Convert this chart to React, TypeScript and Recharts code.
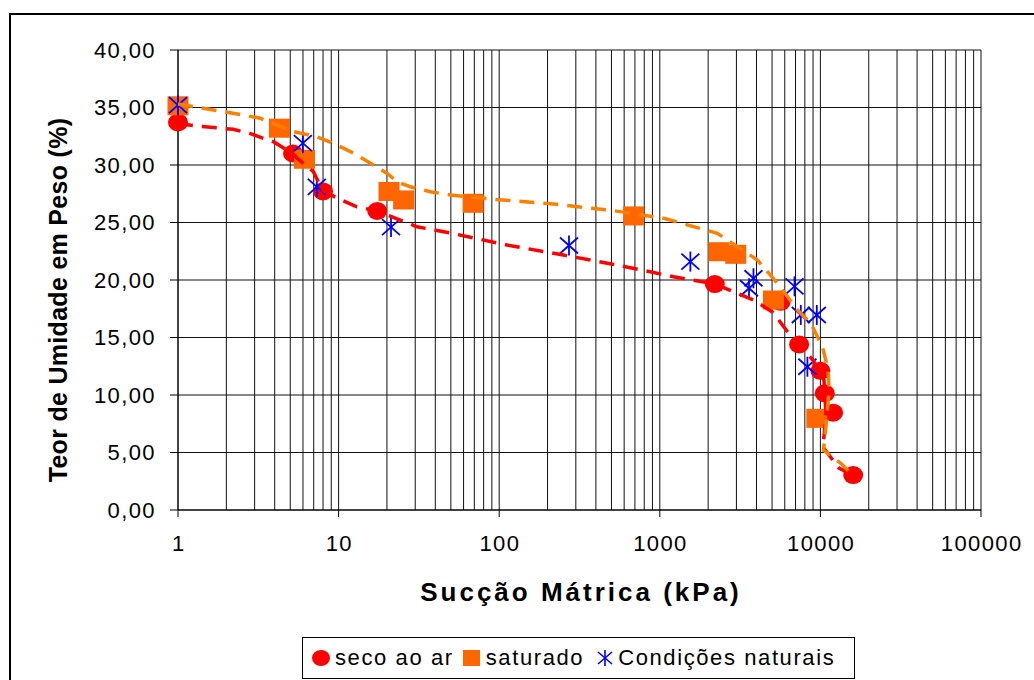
import { ScatterChart, Scatter, XAxis, YAxis, CartesianGrid, Legend } from 'recharts';

// seco ao ar (red circles)
const secoX = [1, 5.2, 8.0, 17.4, 2200, 5660, 7370, 10000, 10650, 12000, 16000];
const secoY = [33.7, 31.0, 27.7, 26.0, 19.65, 18.1, 14.4, 12.1, 10.15, 8.46, 3.04];

// saturado (orange squares)
const saturadoX = [1, 4.28, 6.13, 20.6, 25.4, 68.8, 687, 2337, 2970, 5100, 9500];
const saturadoY = [35.15, 33.2, 30.5, 27.7, 26.96, 26.67, 25.57, 22.46, 22.23, 18.26, 7.97];

// Condições naturais (blue asterisks)
const naturaisX = [1, 5.99, 7.32, 21.2, 272, 1550, 3830, 3594, 6900, 7550, 9500, 8300];
const naturaisY = [35.2, 31.9, 28.1, 24.6, 23.0, 21.6, 20.15, 19.28, 19.45, 16.96, 16.96, 12.46];

// dashed curves
const curvaSecoX = [1, 1.25, 2.21, 2.8, 3.4, 3.93, 5.21, 5.5, 6.97, 7.9, 9.76, 13.0, 17.4, 30.8, 49.6, 112, 251, 543, 1219, 2197, 3846, 5050, 6260, 7340, 8980, 10520, 10840, 10370, 13030, 15920];
const curvaSecoY = [33.6, 33.42, 33.1, 32.75, 32.32, 32.03, 30.96, 30.6, 29.42, 27.83, 27.13, 26.37, 26.0, 24.63, 24.09, 23.04, 22.17, 21.3, 20.29, 19.65, 18.26, 17.2, 15.48, 14.43, 13.04, 11.3, 8.26, 5.48, 3.65, 3.04];

const curvaSatX = [1, 1.44, 2.55, 3.25, 5.23, 7.32, 9.76, 12.4, 20.0, 23.1, 27.9, 37.2, 49.6, 92, 218, 515, 1057, 2280, 4055, 5400, 7200, 8710, 10300, 11170, 11330, 10810, 10450, 13400, 15920];
const curvaSatY = [35.3, 34.93, 34.35, 34.06, 32.9, 32.46, 31.74, 31.02, 29.28, 28.55, 28.11, 27.68, 27.39, 27.02, 26.61, 26.03, 25.37, 24.06, 21.74, 19.71, 17.39, 16.23, 14.2, 12.17, 10.43, 7.2, 5.2, 4.06, 3.04];

const majorTicks = [1, 10, 100, 1000, 10000, 100000];
const minorSteps = [1, 2, 3, 4, 5, 6, 7, 8, 9];
const xTicks = [1, 10, 100, 1000, 10000].flatMap(d => minorSteps.map(s => s * d)).concat(100000);
const yTicks = [0, 5, 10, 15, 20, 25, 30, 35, 40];

const FONT = '"Liberation Sans", Arial, sans-serif';

const toPoints = (xs: number[], ys: number[]) => xs.map((x, i) => ({ x, y: ys[i] }));

const Circle = ({ cx, cy }: any) => <ellipse cx={cx} cy={cy} rx={10} ry={9} fill="#FF0000" />;
const Square = ({ cx, cy }: any) => <rect x={cx - 10.5} y={cy - 9.5} width={21} height={19} fill="#FF6600" />;
const Star = ({ cx, cy }: any) => (
  <g stroke="#0000FF" strokeWidth={1.8}>
    <line x1={cx} y1={cy - 10} x2={cx} y2={cy + 10} />
    <line x1={cx - 9} y1={cy - 8} x2={cx + 9} y2={cy + 8} />
    <line x1={cx - 9} y1={cy + 8} x2={cx + 9} y2={cy - 8} />
  </g>
);
const NoDot = () => <g />;

function XTick(props: any) {
  const { x, y, payload } = props;
  if (!majorTicks.includes(payload.value)) return <g />;
  return (
    <g>
      <line x1={x} y1={y - 25} x2={x} y2={y - 18} stroke="#000" />
      <text x={x + 0.7} y={y} dy="0.71em" textAnchor="middle" fontSize={22} letterSpacing={1.4} fontFamily={FONT} fill="#000">
        {payload.value}
      </text>
    </g>
  );
}

function YTick(props: any) {
  const { x, y, payload } = props;
  return (
    <text x={x} y={y} dy="0.355em" textAnchor="end" fontSize={22} letterSpacing={1.4} fontFamily={FONT} fill="#000">
      {payload.value.toFixed(2).replace('.', ',')}
    </text>
  );
}

function LegendBox() {
  const item = { display: 'flex', alignItems: 'center', whiteSpace: 'nowrap' as const };
  return (
    <div style={{ width: 553, height: 42, boxSizing: 'border-box', border: '1px solid #000', background: '#fff', display: 'flex', alignItems: 'center', paddingLeft: 8, fontFamily: FONT, fontSize: 22, letterSpacing: 1.6, color: '#000' }}>
      <span style={item}>
        <svg width={20} height={18}><ellipse cx={10} cy={9} rx={9} ry={8} fill="#FF0000" /></svg>
        <span style={{ marginLeft: 4 }}>seco ao ar</span>
      </span>
      <span style={{ ...item, marginLeft: 9 }}>
        <svg width={18} height={18}><rect x={0} y={1} width={17} height={16} fill="#FF6600" /></svg>
        <span style={{ marginLeft: 5 }}>saturado</span>
      </span>
      <span style={{ ...item, marginLeft: 11 }}>
        <svg width={20} height={18}>
          <g stroke="#0000FF" strokeWidth={1.6}>
            <line x1={10} y1={1} x2={10} y2={17} />
            <line x1={3} y1={3} x2={17} y2={15} />
            <line x1={3} y1={15} x2={17} y2={3} />
          </g>
        </svg>
        <span style={{ marginLeft: 3 }}>Condições naturais</span>
      </span>
    </div>
  );
}

export default function App() {
  return (
    <div style={{ position: 'fixed', left: 0, top: 0, width: 1034, height: 680, overflow: 'hidden', background: '#fff' }}>
      <div style={{ position: 'absolute', left: 9, top: 13, width: 1100, height: 800, border: '2px solid #000' }} />
      <div style={{ position: 'absolute', left: 0, top: 0 }}>
        <ScatterChart width={1034} height={680} margin={{ top: 50, right: 53, bottom: 0, left: 0 }}>
          <CartesianGrid stroke="#111" strokeWidth={1} />
          <XAxis
            type="number"
            dataKey="x"
            scale="log"
            domain={[1, 100000]}
            ticks={xTicks}
            interval={0}
            height={170}
            tickSize={7}
            tickMargin={18}
            tickLine={false}
            tick={<XTick />}
            axisLine={{ stroke: '#000' }}
            label={{
              content: (p: any) => (
                <text x={p.viewBox.x + p.viewBox.width / 2 + 1.5} y={p.viewBox.y + 91} textAnchor="middle" fontSize={26} fontWeight="bold" letterSpacing={3} fontFamily={FONT} fill="#000">
                  Sucção Mátrica (kPa)
                </text>
              ),
            }}
          />
          <YAxis
            type="number"
            dataKey="y"
            domain={[0, 40]}
            ticks={yTicks}
            interval={0}
            width={178}
            tickSize={8}
            tickMargin={14}
            tickLine={{ stroke: '#000' }}
            tick={<YTick />}
            axisLine={{ stroke: '#000' }}
            label={{
              content: (p: any) => {
                const cx = p.viewBox.x + 58;
                const cy = p.viewBox.y + p.viewBox.height / 2 + 20;
                return (
                  <text x={cx} y={cy} transform={`rotate(-90 ${cx} ${cy})`} textAnchor="middle" dominantBaseline="central" fontSize={25} fontWeight="bold" letterSpacing={0.3} fontFamily={FONT} fill="#000">
                    Teor de Umidade em Peso (%)
                  </text>
                );
              },
            }}
          />
          <Scatter name="seco ao ar" data={toPoints(secoX, secoY)} fill="#FF0000" shape={Circle} isAnimationActive={false} />
          <Scatter name="saturado" data={toPoints(saturadoX, saturadoY)} fill="#FF6600" shape={Square} isAnimationActive={false} />
          <Scatter name="Condições naturais" data={toPoints(naturaisX, naturaisY)} fill="#0000FF" shape={Star} isAnimationActive={false} />
          <Scatter
            name="curva seco"
            legendType="none"
            data={toPoints(curvaSecoX, curvaSecoY)}
            fill="#FF0000"
            shape={NoDot}
            line={{ stroke: '#FF0000', strokeWidth: 3.5, strokeDasharray: '15 9' }}
            lineJointType="linear"
            isAnimationActive={false}
          />
          <Scatter
            name="curva saturado"
            legendType="none"
            data={toPoints(curvaSatX, curvaSatY)}
            fill="#FF8000"
            shape={NoDot}
            line={{ stroke: '#FF8000', strokeWidth: 3.5, strokeDasharray: '15 9' }}
            lineJointType="linear"
            isAnimationActive={false}
          />
          <Legend
            layout="horizontal"
            verticalAlign="middle"
            align="center"
            wrapperStyle={{ left: 302, top: 637, width: 553, height: 42 }}
            content={() => <LegendBox />}
          />
        </ScatterChart>
      </div>
    </div>
  );
}
